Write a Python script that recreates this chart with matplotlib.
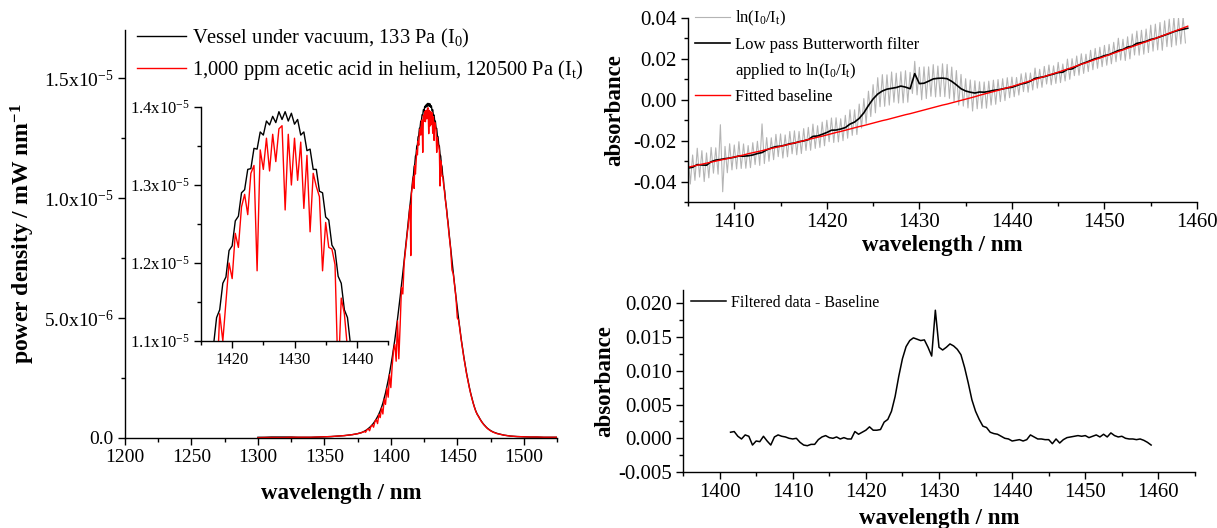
import numpy as np
import matplotlib
matplotlib.use("Agg")
import matplotlib.pyplot as plt
from matplotlib.lines import Line2D
from matplotlib.ticker import MultipleLocator, FixedLocator, FixedFormatter, FormatStrFormatter

plt.rcParams["font.family"] = ["Liberation Serif", "DejaVu Serif"]
plt.rcParams["mathtext.default"] = "regular"
plt.rcParams["axes.unicode_minus"] = False

# ---- emission spectra (power density, units of 1e-5 mW/nm) ----
wl_spec = np.concatenate([
    np.arange(1300, 1371, 5),
    np.arange(1371, 1412, 1),
    np.arange(1411.5, 1444.1, 0.5),
    np.arange(1445, 1481, 1),
    np.arange(1485, 1526, 5),
])

i0_spec = [
    0.003, 0.003, 0.004, 0.004, 0.004, 0.004, 0.003, 0.003, 0.003, 0.004, 0.005, 0.006, 0.008, 0.010, 0.013,
    # 1371 - 1411
    0.014, 0.015, 0.016, 0.017, 0.018, 0.020, 0.021, 0.023, 0.025, 0.028,
    0.031, 0.035, 0.039, 0.044, 0.049, 0.055, 0.062, 0.070, 0.079, 0.089,
    0.100, 0.113, 0.128, 0.145, 0.166, 0.188, 0.213, 0.240, 0.269, 0.301,
    0.335, 0.371, 0.410, 0.451, 0.495, 0.540, 0.588, 0.636, 0.687, 0.738,
    0.790,
    # 1411.5 - 1444.0
    0.817, 0.843, 0.869, 0.897, 0.922, 0.951, 0.974, 1.001, 1.025, 1.050,
    1.080, 1.094, 1.130, 1.140, 1.174, 1.182, 1.216, 1.222, 1.254, 1.260,
    1.290, 1.294, 1.320, 1.321, 1.347, 1.346, 1.368, 1.364, 1.382, 1.377,
    1.388, 1.380, 1.394, 1.384, 1.394, 1.382, 1.392, 1.378, 1.384, 1.364,
    1.368, 1.344, 1.346, 1.320, 1.320, 1.292, 1.290, 1.259, 1.255, 1.223,
    1.216, 1.183, 1.174, 1.140, 1.130, 1.094, 1.082, 1.045, 1.030, 0.996,
    0.974, 0.951, 0.922, 0.900, 0.869, 0.843,
    # 1445 - 1480
    0.790, 0.738, 0.687, 0.636, 0.588, 0.540, 0.495, 0.451, 0.410, 0.371,
    0.335, 0.301, 0.269, 0.240, 0.213, 0.188, 0.166, 0.145, 0.127, 0.111,
    0.099, 0.090, 0.080, 0.071, 0.063, 0.056, 0.050, 0.044, 0.039, 0.035,
    0.031, 0.028, 0.025, 0.023, 0.021, 0.019,
    # 1485 - 1525
    0.012, 0.008, 0.006, 0.005, 0.004, 0.004, 0.003, 0.003, 0.003,
]

it_spec = [
    0.001, 0.002, 0.002, 0.002, 0.002, 0.003, 0.003, 0.003, 0.003, 0.004, 0.005, 0.006, 0.008, 0.010, 0.013,
    # 1371 - 1411
    0.014, 0.015, 0.016, 0.017, 0.018, 0.019, 0.021, 0.022, 0.025, 0.027,
    0.024, 0.034, 0.038, 0.030, 0.048, 0.054, 0.045, 0.068, 0.077, 0.060,
    0.098, 0.085, 0.125, 0.100, 0.162, 0.140, 0.208, 0.170, 0.264, 0.210,
    0.300, 0.365, 0.390, 0.320, 0.488, 0.330, 0.470, 0.628, 0.600, 0.728,
    0.782,
    # 1411.5 - 1444.0
    0.810, 0.835, 0.860, 0.880, 0.915, 0.940, 0.968, 0.760, 1.018, 1.042,
    1.068, 1.090, 1.040, 1.135, 1.100, 1.150, 1.200, 1.180, 1.238, 1.220,
    1.272, 1.288, 1.262, 1.315, 1.325, 1.190, 1.345, 1.320, 1.360, 1.318,
    1.365, 1.330, 1.372, 1.376, 1.268, 1.365, 1.300, 1.360, 1.306, 1.355,
    1.270, 1.338, 1.240, 1.315, 1.298, 1.285, 1.190, 1.252, 1.220, 1.218,
    1.198, 1.050, 1.155, 1.135, 1.090, 1.092, 1.068, 1.043, 1.018, 0.995,
    0.968, 0.945, 0.916, 0.895, 0.863, 0.838,
    # 1445 - 1480
    0.786, 0.700, 0.683, 0.632, 0.584, 0.500, 0.491, 0.447, 0.406, 0.368,
    0.332, 0.298, 0.266, 0.238, 0.211, 0.186, 0.164, 0.144, 0.126, 0.110,
    0.098, 0.089, 0.079, 0.070, 0.062, 0.055, 0.049, 0.043, 0.038, 0.034,
    0.030, 0.027, 0.024, 0.022, 0.020, 0.018,
    # 1485 - 1525
    0.012, 0.008, 0.006, 0.005, 0.004, 0.004, 0.003, 0.003, 0.003,
]

spec_ticks = [0, 5e-6, 1e-5, 1.5e-5]
spec_ticklabels = ["0.0", "5.0x10$^{-6}$", "1.0x10$^{-5}$", "1.5x10$^{-5}$"]
inset_ticks = [1.1e-5, 1.2e-5, 1.3e-5, 1.4e-5]
inset_ticklabels = ["1.1x10$^{-5}$", "1.2x10$^{-5}$", "1.3x10$^{-5}$", "1.4x10$^{-5}$"]

# ---- absorbance, 0.5 nm steps from 1401.5 to 1459.0 ----
wl_abs = np.arange(1401.5, 1459.25, 0.5)

# filtered data minus baseline
abs_diff = [
    0.0009, 0.0010, 0.0003, -0.0001, 0.0005, 0.0003, -0.0010, -0.0004, -0.0005, 0.0003,
    -0.0004, -0.0010, 0.0002, 0.0005, 0.0003, 0.0002, 0.0000, -0.0001, 0.0000, -0.0006,
    -0.0010, -0.0011, -0.0009, -0.0009, -0.0002, 0.0002, 0.0004, 0.0001, 0.0000, 0.0002,
    -0.0001, 0.0001, -0.0001, -0.0001, 0.0010, 0.0006, 0.0009, 0.0012, 0.0017, 0.0012,
    0.0012, 0.0013, 0.0024, 0.0028, 0.0040, 0.0062, 0.0092, 0.0118, 0.0136, 0.0145,
    0.0149, 0.0147, 0.0145, 0.0146, 0.0135, 0.0122, 0.0190, 0.0135, 0.0131, 0.0135,
    0.0140, 0.0137, 0.0132, 0.0124, 0.0105, 0.0082, 0.0057, 0.0040, 0.0028, 0.0018,
    0.0016, 0.0009, 0.0007, 0.0006, 0.0003, 0.0000, -0.0001, -0.0004, -0.0003, -0.0002,
    -0.0004, -0.0002, 0.0005, 0.0002, -0.0001, -0.0001, -0.0002, -0.0002, -0.0008, -0.0001,
    -0.0007, -0.0002, 0.0001, 0.0002, 0.0003, 0.0004, 0.0003, 0.0004, 0.0001, 0.0003,
    0.0005, 0.0002, 0.0006, 0.0002, 0.0008, 0.0004, 0.0002, 0.0003, 0.0000, -0.0001,
    -0.0001, -0.0002, -0.0001, -0.0003, -0.0006, -0.0010,
]

# fitted baseline
abs_base = [
    -0.0365, -0.0360, -0.0355, -0.0350, -0.0345, -0.0340, -0.0335, -0.0330, -0.0325, -0.0320,
    -0.0315, -0.0310, -0.0305, -0.0300, -0.0295, -0.0290, -0.0285, -0.0280, -0.0275, -0.0270,
    -0.0264, -0.0259, -0.0254, -0.0249, -0.0243, -0.0238, -0.0233, -0.0228, -0.0222, -0.0217,
    -0.0211, -0.0206, -0.0200, -0.0194, -0.0189, -0.0183, -0.0178, -0.0172, -0.0166, -0.0160,
    -0.0155, -0.0149, -0.0143, -0.0137, -0.0131, -0.0126, -0.0120, -0.0114, -0.0108, -0.0102,
    -0.0097, -0.0091, -0.0085, -0.0079, -0.0073, -0.0068, -0.0062, -0.0056, -0.0050, -0.0044,
    -0.0038, -0.0032, -0.0026, -0.0021, -0.0015, -0.0009, -0.0003, 0.0003, 0.0009, 0.0015,
    0.0022, 0.0028, 0.0034, 0.0040, 0.0046, 0.0053, 0.0059, 0.0065, 0.0072, 0.0079,
    0.0086, 0.0093, 0.0100, 0.0107, 0.0114, 0.0121, 0.0128, 0.0135, 0.0143, 0.0150,
    0.0158, 0.0166, 0.0174, 0.0181, 0.0189, 0.0197, 0.0204, 0.0212, 0.0220, 0.0228,
    0.0236, 0.0244, 0.0252, 0.0260, 0.0268, 0.0276, 0.0284, 0.0292, 0.0300, 0.0309,
    0.0317, 0.0326, 0.0334, 0.0343, 0.0351, 0.0360,
]

# raw ln(I0/It), 0.25 nm steps from 1405.0 to 1458.75
wl_raw = np.arange(1405, 1458.8, 0.25)
abs_raw = [
    -0.0264, -0.0412, -0.0270, -0.0394, -0.0237, -0.0378, -0.0249, -0.0400,
    -0.0260, -0.0382, -0.0233, -0.0359, -0.0235, -0.0364, -0.0122, -0.0450,
    -0.0228, -0.0357, -0.0215, -0.0343, -0.0221, -0.0338, -0.0205, -0.0336,
    -0.0216, -0.0335, -0.0224, -0.0332, -0.0210, -0.0317, -0.0203, -0.0321,
    -0.0118, -0.0312, -0.0185, -0.0301, -0.0186, -0.0293, -0.0169, -0.0278,
    -0.0167, -0.0285, -0.0172, -0.0279, -0.0155, -0.0264, -0.0152, -0.0269,
    -0.0155, -0.0263, -0.0141, -0.0248, -0.0135, -0.0247, -0.0119, -0.0238,
    -0.0127, -0.0233, -0.0109, -0.0225, -0.0100, -0.0205, -0.0089, -0.0209,
    -0.0088, -0.0206, -0.0093, -0.0200, -0.0076, -0.0188, -0.0049, -0.0174,
    -0.0049, -0.0170, -0.0021, -0.0138, 0.0006, -0.0116, 0.0042, -0.0082,
    0.0074, -0.0064, 0.0108, -0.0034, 0.0123, -0.0032, 0.0122, -0.0026,
    0.0136, -0.0012, 0.0130, -0.0016, 0.0137, -0.0015, 0.0142, -0.0012,
    0.0134, 0.0031, 0.0188, 0.0024, 0.0159, 0.0000, 0.0161, 0.0006,
    0.0161, 0.0017, 0.0172, 0.0014, 0.0165, 0.0016, 0.0176, 0.0015,
    0.0173, 0.0007, 0.0160, -0.0008, 0.0143, -0.0026, 0.0124, -0.0031,
    0.0103, -0.0040, 0.0097, -0.0055, 0.0093, -0.0044, 0.0088, -0.0042,
    0.0087, -0.0041, 0.0091, -0.0026, 0.0096, -0.0022, 0.0099, -0.0009,
    0.0103, -0.0004, 0.0108, 0.0010, 0.0111, 0.0015, 0.0109, 0.0023,
    0.0127, 0.0040, 0.0132, 0.0037, 0.0131, 0.0048, 0.0155, 0.0057,
    0.0149, 0.0061, 0.0163, 0.0077, 0.0170, 0.0073, 0.0166, 0.0080,
    0.0183, 0.0084, 0.0175, 0.0092, 0.0199, 0.0100, 0.0201, 0.0118,
    0.0214, 0.0120, 0.0225, 0.0129, 0.0223, 0.0138, 0.0242, 0.0147,
    0.0251, 0.0154, 0.0257, 0.0162, 0.0266, 0.0169, 0.0271, 0.0176,
    0.0281, 0.0186, 0.0301, 0.0194, 0.0296, 0.0192, 0.0308, 0.0200,
    0.0322, 0.0219, 0.0336, 0.0218, 0.0340, 0.0223, 0.0346, 0.0231,
    0.0365, 0.0238, 0.0370, 0.0244, 0.0378, 0.0242, 0.0386, 0.0260,
    0.0394, 0.0259, 0.0403, 0.0267, 0.0400, 0.0273, 0.0405, 0.0278,
]

abs_base = np.array(abs_base)
abs_filtered = abs_base + np.array(abs_diff)

W, H = 1217, 528


def px_axes(left, top, right, bottom):
    return [left / W, (H - bottom) / H, (right - left) / W, (bottom - top) / H]


def origin_style(ax, size):
    for side in ("top", "right"):
        ax.spines[side].set_visible(False)
    for side in ("left", "bottom"):
        ax.spines[side].set_linewidth(1.0)
    ax.set_facecolor("none")
    ax.tick_params(which="both", direction="out", labelsize=size, width=1.0, pad=3)
    ax.tick_params(which="major", length=5)
    ax.tick_params(which="minor", length=3)


label_font = dict(fontsize=16.5, fontweight="bold")

fig = plt.figure(figsize=(W / 100, H / 100), dpi=100)

# ---- left: emission spectra ----
ax1 = fig.add_axes(px_axes(125, 30, 557, 438))
ax1.plot(wl_spec, np.array(i0_spec) * 1e-5, color="black", lw=1.0,
         label="Vessel under vacuum, 133 Pa (I$_0$)")
ax1.plot(wl_spec, np.array(it_spec) * 1e-5, color="red", lw=1.0,
         label="1,000 ppm acetic acid in helium, 120500 Pa (I$_t$)")
ax1.set_xlim(1200, 1525)
ax1.set_ylim(0, 1.7e-5)
origin_style(ax1, 14)
ax1.xaxis.set_major_locator(MultipleLocator(50))
ax1.xaxis.set_minor_locator(MultipleLocator(25))
ax1.yaxis.set_major_locator(FixedLocator(spec_ticks))
ax1.yaxis.set_major_formatter(FixedFormatter(spec_ticklabels))
ax1.yaxis.set_minor_locator(MultipleLocator(2.5e-6))
ax1.set_xlabel("wavelength / nm", **label_font)
ax1.set_ylabel("power density / mW nm$^{-1}$", fontsize=17, fontweight="bold")
ax1.xaxis.set_label_coords(0.5, -0.11)
ax1.yaxis.set_label_coords(-0.204, 0.5)
ax1.legend(loc="upper left", bbox_to_anchor=(137 / W, 1 - 27 / H), bbox_transform=fig.transFigure,
           frameon=False, fontsize=14.8, handlelength=2.4, handletextpad=0.3,
           labelspacing=0.4, borderpad=0, borderaxespad=0)

# inset: top of the spectra
ax_in = fig.add_axes(px_axes(201, 107, 388, 341))
ax_in.plot(wl_spec, np.array(i0_spec) * 1e-5, color="black", lw=1.0)
ax_in.plot(wl_spec, np.array(it_spec) * 1e-5, color="red", lw=1.0)
ax_in.set_xlim(1415, 1445)
ax_in.set_ylim(1.1e-5, 1.4e-5)
origin_style(ax_in, 12)
ax_in.xaxis.set_major_locator(MultipleLocator(10))
ax_in.xaxis.set_minor_locator(MultipleLocator(5))
ax_in.yaxis.set_major_locator(FixedLocator(inset_ticks))
ax_in.yaxis.set_major_formatter(FixedFormatter(inset_ticklabels))
ax_in.yaxis.set_minor_locator(MultipleLocator(0.5e-6))

# ---- top right: absorbance and baseline ----
ax2 = fig.add_axes(px_axes(688, 18, 1197, 202))
raw_line, = ax2.plot(wl_raw, abs_raw, color="#b4b4b4", lw=0.8)
filt_line, = ax2.plot(wl_abs, abs_filtered, color="black", lw=1.2)
base_line, = ax2.plot(wl_abs, abs_base, color="red", lw=1.0)
ax2.set_xlim(1405, 1460)
ax2.set_ylim(-0.05, 0.04)
origin_style(ax2, 15)
ax2.xaxis.set_major_locator(MultipleLocator(10))
ax2.xaxis.set_minor_locator(MultipleLocator(5))
ax2.yaxis.set_major_locator(MultipleLocator(0.02))
ax2.yaxis.set_minor_locator(MultipleLocator(0.01))
ax2.yaxis.set_major_formatter(FormatStrFormatter("%.2f"))
ax2.set_xlabel("wavelength / nm", **label_font)
ax2.set_ylabel("absorbance", **label_font)
ax2.xaxis.set_label_coords(0.5, -0.18)
ax2.yaxis.set_label_coords(-0.124, 0.5)
# second line of the filter entry has no line sample of its own
blank = Line2D([], [], color="none")
ax2.legend([raw_line, filt_line, blank, base_line],
           ["ln(I$_0$/I$_t$)", "Low pass Butterworth filter", "applied to ln(I$_0$/I$_t$)", "Fitted baseline"],
           loc="upper left", bbox_to_anchor=(695 / W, 1 - 9 / H), bbox_transform=fig.transFigure,
           frameon=False, fontsize=12, handlelength=2.1, handletextpad=0.3,
           labelspacing=0.5, borderpad=0, borderaxespad=0)

# ---- bottom right: filtered data minus baseline ----
ax3 = fig.add_axes(px_axes(683, 290, 1195, 472))
ax3.plot(wl_abs, abs_diff, color="black", lw=1.1, label="Filtered data - Baseline")
ax3.set_xlim(1395, 1465)
ax3.set_ylim(-0.005, 0.022)
origin_style(ax3, 15)
ax3.xaxis.set_major_locator(MultipleLocator(10))
ax3.xaxis.set_minor_locator(MultipleLocator(5))
ax3.yaxis.set_major_locator(MultipleLocator(0.005))
ax3.yaxis.set_minor_locator(MultipleLocator(0.0025))
ax3.yaxis.set_major_formatter(FormatStrFormatter("%.3f"))
ax3.set_xlabel("wavelength / nm", **label_font)
ax3.set_ylabel("absorbance", **label_font)
ax3.xaxis.set_label_coords(0.5, -0.2)
ax3.yaxis.set_label_coords(-0.133, 0.5)
ax3.legend(loc="upper left", bbox_to_anchor=(691 / W, 1 - 295 / H), bbox_transform=fig.transFigure,
           frameon=False, fontsize=11.5, handlelength=2.2, handletextpad=0.3,
           borderpad=0, borderaxespad=0)

fig.savefig("out.png", dpi=100)
